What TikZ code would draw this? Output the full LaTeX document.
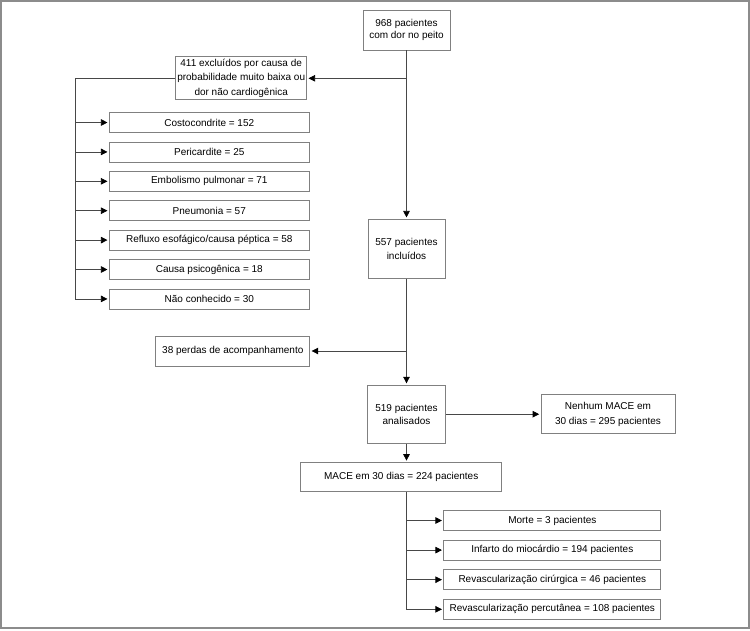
\documentclass[tikz,border=0pt]{standalone}
\usepackage{fontspec}
\setmainfont{Liberation Sans}
\usetikzlibrary{arrows.meta}
\begin{document}
\begin{tikzpicture}[x=1pt,y=-1pt,font=\fontsize{10}{13.5}\selectfont,
    caixa/.style={draw=black!50,line width=0.7pt,align=center,inner sep=0pt,minimum height=20pt},
    linha/.style={draw=black!72,line width=0.7pt},
    seta/.style={-{Triangle[length=6.5pt,width=6.5pt,fill=black,color=black]},shorten >=1.5pt}]
    \useasboundingbox (0,0) rectangle (750,630);
    \draw[black!45,line width=1.2pt] (1,1) rectangle (749,628);
    \node[caixa,minimum width=87pt,minimum height=40pt,font=\fontsize{10}{12.5}\selectfont] (total) at (406.5,30) {968 pacientes\\com dor no peito};
    \node[caixa,minimum width=131pt,minimum height=43pt,font=\fontsize{10}{14.5}\selectfont] (excl) at (241.2,78.3) {411 excluídos por causa de\\probabilidade muito baixa ou\\dor não cardiogênica};
    \node[caixa,minimum width=200pt] (e1) at (209.3,122.5) {Costocondrite = 152};
    \node[caixa,minimum width=200pt] (e2) at (209.3,151.9) {Pericardite = 25};
    \node[caixa,minimum width=200pt] (e3) at (209.3,181.3) {Embolismo pulmonar = 71};
    \node[caixa,minimum width=200pt] (e4) at (209.3,210.7) {Pneumonia = 57};
    \node[caixa,minimum width=200pt] (e5) at (209.3,240.1) {Refluxo esofágico/causa péptica = 58};
    \node[caixa,minimum width=200pt] (e6) at (209.3,269.5) {Causa psicogênica = 18};
    \node[caixa,minimum width=200pt] (e7) at (209.3,298.9) {Não conhecido = 30};
    \node[caixa,minimum width=77pt,minimum height=59pt] (incl) at (406.5,248.8) {557 pacientes\\incluídos};
    \node[caixa,minimum width=154pt,minimum height=30pt] (perdas) at (232.8,351) {38 perdas de acompanhamento};
    \node[caixa,minimum width=78pt,minimum height=58pt] (anal) at (406.5,414.2) {519 pacientes\\analisados};
    \node[caixa,minimum width=134pt,minimum height=39pt,font=\fontsize{10}{15.5}\selectfont] (nenhum) at (608,414.2) {Nenhum MACE em\\30 dias = 295 pacientes};
    \node[caixa,minimum width=201pt,minimum height=29pt] (mace) at (401.2,477) {MACE em 30 dias = 224 pacientes};
    \node[caixa,minimum width=217pt] (o1) at (552.3,520.5) {Morte = 3 pacientes};
    \node[caixa,minimum width=217pt] (o2) at (552.3,550.1) {Infarto do miocárdio = 194 pacientes};
    \node[caixa,minimum width=217pt] (o3) at (552.3,579.7) {Revascularização cirúrgica = 46 pacientes};
    \node[caixa,minimum width=217pt] (o4) at (552.3,609.3) {Revascularização percutânea = 108 pacientes};
    \coordinate (ramo) at (75,78.3);
    \draw[linha,seta] (total.south) -- (incl.north);
    \draw[linha,seta] (total.south |- excl.east) -- (excl.east);
    \draw[linha,seta] (excl.west) -- (ramo) |- (e7.west);
    \draw[linha,seta] (ramo |- e1.west) -- (e1.west);
    \draw[linha,seta] (ramo |- e2.west) -- (e2.west);
    \draw[linha,seta] (ramo |- e3.west) -- (e3.west);
    \draw[linha,seta] (ramo |- e4.west) -- (e4.west);
    \draw[linha,seta] (ramo |- e5.west) -- (e5.west);
    \draw[linha,seta] (ramo |- e6.west) -- (e6.west);
    \draw[linha,seta] (incl.south) -- (anal.north);
    \draw[linha,seta] (incl.south |- perdas.east) -- (perdas.east);
    \draw[linha,seta] (anal.east) -- (nenhum.west);
    \draw[linha,seta] (anal.south) -- (anal.south |- mace.north);
    \draw[linha,seta] (mace.south -| anal.south) |- (o4.west);
    \draw[linha,seta] (anal.south |- o1.west) -- (o1.west);
    \draw[linha,seta] (anal.south |- o2.west) -- (o2.west);
    \draw[linha,seta] (anal.south |- o3.west) -- (o3.west);
\end{tikzpicture}
\end{document}
